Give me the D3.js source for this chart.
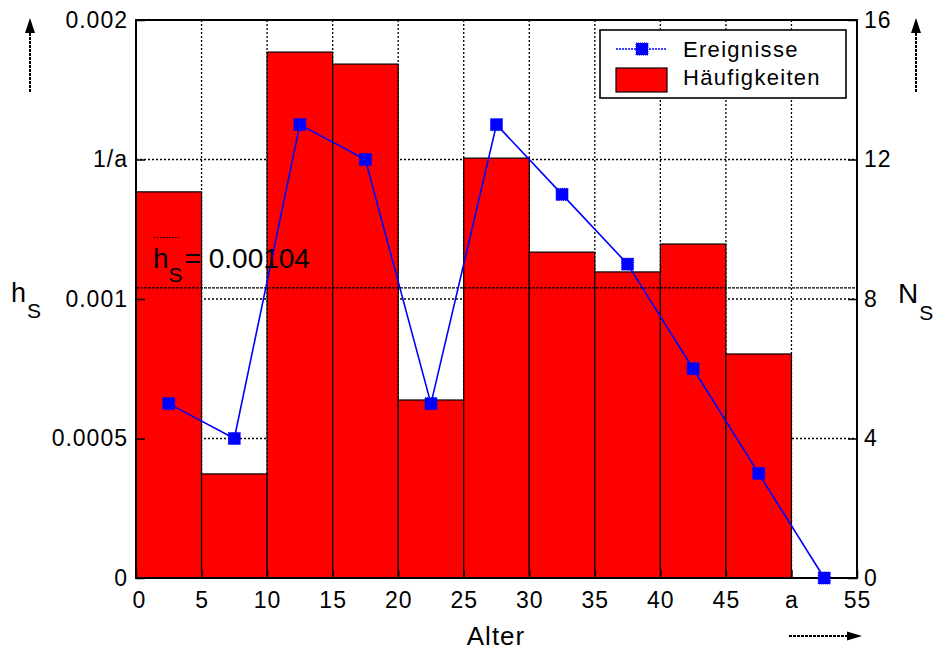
<!DOCTYPE html>
<html><head><meta charset="utf-8">
<script src="https://cdn.jsdelivr.net/npm/d3@7"></script>
<style>body{margin:0;background:#fff;} svg{display:block;font-family:"Liberation Sans",Arial,sans-serif;}</style>
</head><body>
<svg id="c" width="936" height="651"></svg>
<script>
const binStarts = [0,5,10,15,20,25,30,35,40,45];
const haeufigkeiten = [0.001384,0.000373,0.001885,0.001842,0.000638,0.001505,0.001168,0.001097,0.001197,0.000803];
const eventAges = [2.5,7.5,12.5,17.5,22.5,27.5,32.5,37.5,42.5,47.5,52.5];
const ereignisse = [5,4,13,12,5,13,11,9,6,3,0];
const xTicks = [0,5,10,15,20,25,30,35,40,45,50,55];
const xTickLabels = ["0","5","10","15","20","25","30","35","40","45","a","55"];
const yTicks = [0,0.0005,0.001,0.0015,0.002];
const yTickLabels = ["0","0.0005","0.001","1/a","0.002"];
const y2Ticks = [0,4,8,12,16];
const hS = 0.00104;

const svg = d3.select("#c");
const L=136,R=857,T=20,B=578;
const x = d3.scaleLinear().domain([0,55]).range([L,R]);
const y = d3.scaleLinear().domain([0,0.002]).range([B,T]);
const y2 = d3.scaleLinear().domain([0,16]).range([B,T]);
const FONT = "Liberation Sans, Arial, sans-serif";

// grid (behind bars)
const grid = svg.append("g").attr("stroke","#000").attr("stroke-width",1.3).attr("stroke-dasharray","2,2");
grid.selectAll(".vx").data(xTicks.slice(1,-1)).join("line")
  .attr("x1",d=>x(d)).attr("x2",d=>x(d)).attr("y1",T).attr("y2",B);
grid.selectAll(".hy").data(yTicks.slice(1,-1)).join("line")
  .attr("x1",L).attr("x2",R).attr("y1",d=>y(d)).attr("y2",d=>y(d));

// bars
svg.append("g").selectAll("rect").data(binStarts).join("rect")
  .attr("x",d=>x(d)).attr("width",d=>x(d+5)-x(d))
  .attr("y",(d,i)=>y(haeufigkeiten[i])).attr("height",(d,i)=>B-y(haeufigkeiten[i]))
  .attr("fill","#ff0000").attr("stroke","#000").attr("stroke-width",1.2);

// hS line
svg.append("line").attr("x1",L).attr("x2",R).attr("y1",y(hS)).attr("y2",y(hS))
  .attr("stroke","#000").attr("stroke-width",1.4).attr("stroke-dasharray","3,1");

// axes with inward ticks
const fs = 23;
const styleText = g => g.selectAll("text").attr("font-size",fs).attr("fill","#000")
  .attr("font-family",FONT).attr("letter-spacing",1);
const xAxis = d3.axisBottom(x).tickValues(xTicks).tickFormat((d,i)=>xTickLabels[i]).tickSizeInner(-8).tickSizeOuter(0).tickPadding(14);
const gx = svg.append("g").attr("transform",`translate(0,${B})`).call(xAxis);
gx.select(".domain").remove();
gx.selectAll("line").attr("stroke","#000").attr("stroke-width",1.5);
styleText(gx);
gx.select(".tick:first-of-type text").attr("dx",3);

const yAxis = d3.axisLeft(y).tickValues(yTicks).tickFormat((d,i)=>yTickLabels[i]).tickSizeInner(-9).tickSizeOuter(0).tickPadding(8);
const gy = svg.append("g").attr("transform",`translate(${L},0)`).call(yAxis);
gy.select(".domain").remove();
gy.selectAll("line").attr("stroke","#000").attr("stroke-width",1.5);
styleText(gy);

const y2Axis = d3.axisRight(y2).tickValues(y2Ticks).tickFormat(d3.format("d")).tickSizeInner(-9).tickSizeOuter(0).tickPadding(7);
const gy2 = svg.append("g").attr("transform",`translate(${R},0)`).call(y2Axis);
gy2.select(".domain").remove();
gy2.selectAll("line").attr("stroke","#000").attr("stroke-width",1.5);
styleText(gy2);

// frame
svg.append("rect").attr("x",L).attr("y",T).attr("width",R-L).attr("height",B-T)
  .attr("fill","none").attr("stroke","#000").attr("stroke-width",2);

// line + markers
const line = d3.line().x((d,i)=>x(eventAges[i])).y(d=>y2(d));
svg.append("path").datum(ereignisse).attr("d",line).attr("fill","none").attr("stroke","#0000ff").attr("stroke-width",1.6);
svg.append("g").selectAll("rect").data(ereignisse).join("rect")
  .attr("x",(d,i)=>x(eventAges[i])-6).attr("y",d=>y2(d)-6).attr("width",12).attr("height",12)
  .attr("fill","#0000ff").attr("stroke","#0000ff").attr("stroke-width",1).attr("stroke-dasharray","1,1");

// hS annotation
const ann = svg.append("text").attr("x",153).attr("y",268).attr("font-size",28).attr("fill","#000").attr("font-family",FONT);
ann.append("tspan").text("h");
ann.append("tspan").attr("font-size",21).attr("dy",14).text("S");
ann.append("tspan").attr("dy",-14).attr("dx",2).text("= 0.00104");
svg.append("line").attr("x1",154).attr("x2",180).attr("y1",237.5).attr("y2",237.5)
  .attr("stroke","#000").attr("stroke-width",1.2).attr("stroke-dasharray","1.5,1.5");

// axis labels
const hl = svg.append("text").attr("x",11).attr("y",302).attr("font-size",27).attr("fill","#000").attr("font-family",FONT);
hl.append("tspan").text("h");
hl.append("tspan").attr("font-size",21).attr("dy",16).attr("dx",1).text("S");
const nl = svg.append("text").attr("x",898).attr("y",303).attr("font-size",28).attr("fill","#000").attr("font-family",FONT);
nl.append("tspan").text("N");
nl.append("tspan").attr("font-size",21).attr("dy",17).attr("dx",1).text("S");
svg.append("text").attr("x",496).attr("y",645).attr("text-anchor","middle").attr("font-size",26)
  .attr("fill","#000").attr("font-family",FONT).attr("letter-spacing",1).text("Alter");

// arrows
const shaft = (x1,y1,x2,y2a)=>{
  svg.append("line").attr("x1",x1).attr("y1",y1).attr("x2",x2).attr("y2",y2a)
    .attr("stroke","#000").attr("stroke-width",2).attr("stroke-dasharray","3,1");
};
shaft(30,92,30,30);
svg.append("path").attr("d","M30,18 L25,33 L35,33 Z").attr("fill","#000");
shaft(916,92,916,30);
svg.append("path").attr("d","M916,18 L911,33 L921,33 Z").attr("fill","#000");
shaft(789,636,850,636);
svg.append("path").attr("d","M862,636 L847,631.5 L847,640.5 Z").attr("fill","#000");

// legend
const lg = svg.append("g");
lg.append("rect").attr("x",600).attr("y",30).attr("width",246).attr("height",68)
  .attr("fill","#fff").attr("stroke","#000").attr("stroke-width",1.6);
lg.append("line").attr("x1",616).attr("x2",667).attr("y1",49).attr("y2",49)
  .attr("stroke","#0000ff").attr("stroke-width",1.5).attr("stroke-dasharray","2,1");
lg.append("rect").attr("x",636).attr("y",43).attr("width",12).attr("height",12).attr("fill","#0000ff")
  .attr("stroke","#0000ff").attr("stroke-width",1).attr("stroke-dasharray","1,1");
lg.append("text").attr("x",683).attr("y",57).attr("font-size",22).attr("fill","#000")
  .attr("font-family",FONT).attr("letter-spacing",1.3).text("Ereignisse");
lg.append("rect").attr("x",616).attr("y",68).attr("width",51).attr("height",24)
  .attr("fill","#ff0000").attr("stroke","#000").attr("stroke-width",1.2);
lg.append("text").attr("x",683).attr("y",85).attr("font-size",22).attr("fill","#000")
  .attr("font-family",FONT).attr("letter-spacing",1.3).text("Häufigkeiten");
</script>
</body></html>
